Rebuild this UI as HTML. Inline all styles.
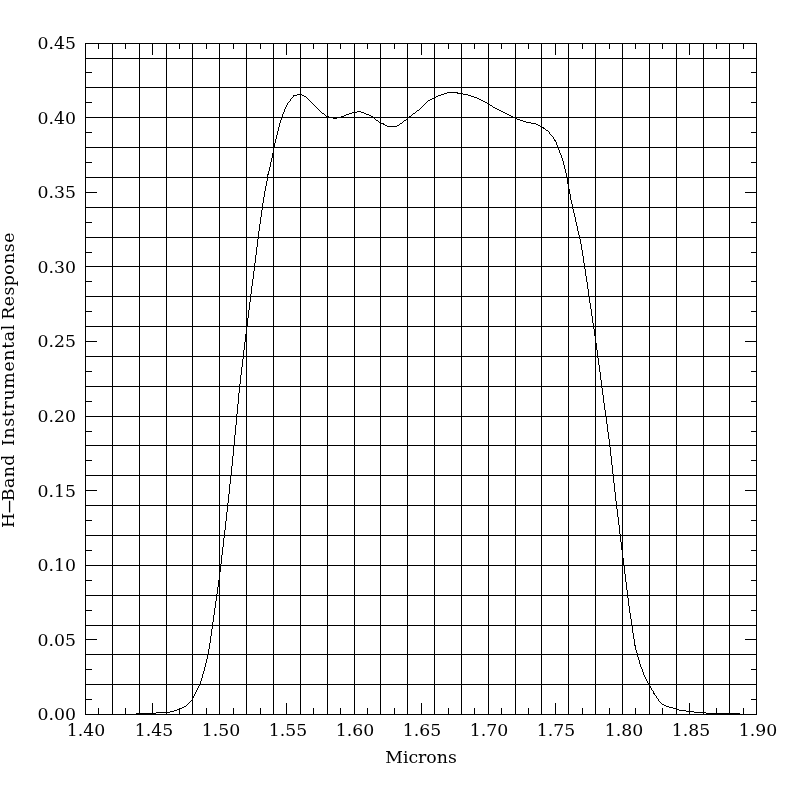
<!DOCTYPE html>
<html lang="en">
<head>
<meta charset="utf-8">
<title>H-Band Instrumental Response</title>
<style>
html,body{margin:0;padding:0;background:#fff;}
body{width:800px;height:800px;overflow:hidden;}
svg{display:block;}
.t{position:absolute;font-family:"DejaVu Serif","Liberation Serif",serif;font-size:16px;line-height:20px;height:20px;color:#000;white-space:nowrap;}
.yl{left:0;width:76px;text-align:right;transform:scaleX(1.08);transform-origin:100% 50%;}
.xl{width:80px;text-align:center;transform:scaleX(1.08);transform-origin:50% 50%;top:721px;}
.xt{left:321px;width:200px;top:748px;text-align:center;transform:scaleX(1.08);transform-origin:50% 50%;}
.yt{left:-191px;top:370px;width:400px;text-align:center;transform:rotate(-90deg) scaleX(1.08);transform-origin:50% 50%;letter-spacing:0.35px;}
.w2{letter-spacing:0.65px;margin-left:2.35px;}
.w3{letter-spacing:0.45px;margin-left:-1.6px;}
.hy{display:inline-block;width:10.5px;text-align:center;transform:scaleX(2.7);margin:0 -0.9px 0 0.9px;}
#plot{position:relative;width:800px;height:800px;overflow:hidden;background:#fff;}
#plot svg{position:absolute;left:0;top:0;}
</style>
</head>
<body>
<div id="plot">
<svg width="800" height="800" viewBox="0 0 800 800">
<rect x="0" y="0" width="800" height="800" fill="#ffffff"/>
<path shape-rendering="crispEdges" fill="#000" d="M85 714h672v1h-672zM85 43h672v1h-672zM85 43h1v672h-1zM756 43h1v672h-1zM98 708h1v7h-1zM98 43h1v6h-1zM112 43h1v672h-1zM112 708h1v7h-1zM112 43h1v6h-1zM125 708h1v7h-1zM125 43h1v6h-1zM139 43h1v672h-1zM139 708h1v7h-1zM139 43h1v6h-1zM152 703h1v12h-1zM152 43h1v12h-1zM166 43h1v672h-1zM166 708h1v7h-1zM166 43h1v6h-1zM179 708h1v7h-1zM179 43h1v6h-1zM192 43h1v672h-1zM192 708h1v7h-1zM192 43h1v6h-1zM206 708h1v7h-1zM206 43h1v6h-1zM219 43h1v672h-1zM219 703h1v12h-1zM219 43h1v12h-1zM233 708h1v7h-1zM233 43h1v6h-1zM246 43h1v672h-1zM246 708h1v7h-1zM246 43h1v6h-1zM260 708h1v7h-1zM260 43h1v6h-1zM273 43h1v672h-1zM273 708h1v7h-1zM273 43h1v6h-1zM286 703h1v12h-1zM286 43h1v12h-1zM300 43h1v672h-1zM300 708h1v7h-1zM300 43h1v6h-1zM313 708h1v7h-1zM313 43h1v6h-1zM327 43h1v672h-1zM327 708h1v7h-1zM327 43h1v6h-1zM340 708h1v7h-1zM340 43h1v6h-1zM354 43h1v672h-1zM354 703h1v12h-1zM354 43h1v12h-1zM367 708h1v7h-1zM367 43h1v6h-1zM380 43h1v672h-1zM380 708h1v7h-1zM380 43h1v6h-1zM394 708h1v7h-1zM394 43h1v6h-1zM407 43h1v672h-1zM407 708h1v7h-1zM407 43h1v6h-1zM421 703h1v12h-1zM421 43h1v12h-1zM434 43h1v672h-1zM434 708h1v7h-1zM434 43h1v6h-1zM448 708h1v7h-1zM448 43h1v6h-1zM461 43h1v672h-1zM461 708h1v7h-1zM461 43h1v6h-1zM474 708h1v7h-1zM474 43h1v6h-1zM488 43h1v672h-1zM488 703h1v12h-1zM488 43h1v12h-1zM501 708h1v7h-1zM501 43h1v6h-1zM515 43h1v672h-1zM515 708h1v7h-1zM515 43h1v6h-1zM528 708h1v7h-1zM528 43h1v6h-1zM541 43h1v672h-1zM541 708h1v7h-1zM541 43h1v6h-1zM555 703h1v12h-1zM555 43h1v12h-1zM568 43h1v672h-1zM568 708h1v7h-1zM568 43h1v6h-1zM582 708h1v7h-1zM582 43h1v6h-1zM595 43h1v672h-1zM595 708h1v7h-1zM595 43h1v6h-1zM609 708h1v7h-1zM609 43h1v6h-1zM622 43h1v672h-1zM622 703h1v12h-1zM622 43h1v12h-1zM635 708h1v7h-1zM635 43h1v6h-1zM649 43h1v672h-1zM649 708h1v7h-1zM649 43h1v6h-1zM662 708h1v7h-1zM662 43h1v6h-1zM676 43h1v672h-1zM676 708h1v7h-1zM676 43h1v6h-1zM689 703h1v12h-1zM689 43h1v12h-1zM703 43h1v672h-1zM703 708h1v7h-1zM703 43h1v6h-1zM716 708h1v7h-1zM716 43h1v6h-1zM729 43h1v672h-1zM729 708h1v7h-1zM729 43h1v6h-1zM743 708h1v7h-1zM743 43h1v6h-1zM85 699h7v1h-7zM751 699h6v1h-6zM85 684h672v1h-672zM85 684h7v1h-7zM751 684h6v1h-6zM85 669h7v1h-7zM751 669h6v1h-6zM85 654h672v1h-672zM85 654h7v1h-7zM751 654h6v1h-6zM85 639h12v1h-12zM745 639h12v1h-12zM85 625h672v1h-672zM85 625h7v1h-7zM751 625h6v1h-6zM85 610h7v1h-7zM751 610h6v1h-6zM85 595h672v1h-672zM85 595h7v1h-7zM751 595h6v1h-6zM85 580h7v1h-7zM751 580h6v1h-6zM85 565h672v1h-672zM85 565h12v1h-12zM745 565h12v1h-12zM85 550h7v1h-7zM751 550h6v1h-6zM85 535h672v1h-672zM85 535h7v1h-7zM751 535h6v1h-6zM85 520h7v1h-7zM751 520h6v1h-6zM85 505h672v1h-672zM85 505h7v1h-7zM751 505h6v1h-6zM85 490h12v1h-12zM745 490h12v1h-12zM85 475h672v1h-672zM85 475h7v1h-7zM751 475h6v1h-6zM85 460h7v1h-7zM751 460h6v1h-6zM85 445h672v1h-672zM85 445h7v1h-7zM751 445h6v1h-6zM85 431h7v1h-7zM751 431h6v1h-6zM85 416h672v1h-672zM85 416h12v1h-12zM745 416h12v1h-12zM85 401h7v1h-7zM751 401h6v1h-6zM85 386h672v1h-672zM85 386h7v1h-7zM751 386h6v1h-6zM85 371h7v1h-7zM751 371h6v1h-6zM85 356h672v1h-672zM85 356h7v1h-7zM751 356h6v1h-6zM85 341h12v1h-12zM745 341h12v1h-12zM85 326h672v1h-672zM85 326h7v1h-7zM751 326h6v1h-6zM85 311h7v1h-7zM751 311h6v1h-6zM85 296h672v1h-672zM85 296h7v1h-7zM751 296h6v1h-6zM85 281h7v1h-7zM751 281h6v1h-6zM85 266h672v1h-672zM85 266h12v1h-12zM745 266h12v1h-12zM85 252h7v1h-7zM751 252h6v1h-6zM85 237h672v1h-672zM85 237h7v1h-7zM751 237h6v1h-6zM85 222h7v1h-7zM751 222h6v1h-6zM85 207h672v1h-672zM85 207h7v1h-7zM751 207h6v1h-6zM85 192h12v1h-12zM745 192h12v1h-12zM85 177h672v1h-672zM85 177h7v1h-7zM751 177h6v1h-6zM85 162h7v1h-7zM751 162h6v1h-6zM85 147h672v1h-672zM85 147h7v1h-7zM751 147h6v1h-6zM85 132h7v1h-7zM751 132h6v1h-6zM85 117h672v1h-672zM85 117h12v1h-12zM745 117h12v1h-12zM85 102h7v1h-7zM751 102h6v1h-6zM85 87h672v1h-672zM85 87h7v1h-7zM751 87h6v1h-6zM85 72h7v1h-7zM751 72h6v1h-6zM85 58h672v1h-672zM85 58h7v1h-7zM751 58h6v1h-6z"/>
<path shape-rendering="crispEdges" fill="#000" d="M136 713h1v1h-1zM137 713h1v1h-1zM138 713h1v1h-1zM139 713h1v1h-1zM140 713h1v1h-1zM141 713h1v1h-1zM142 713h1v1h-1zM143 713h1v1h-1zM144 713h1v1h-1zM145 713h1v1h-1zM146 713h1v1h-1zM147 713h1v1h-1zM148 713h1v1h-1zM149 713h1v1h-1zM150 713h1v1h-1zM151 713h1v1h-1zM152 713h1v1h-1zM153 713h1v1h-1zM154 713h1v1h-1zM155 713h1v1h-1zM156 712h1v1h-1zM157 712h1v1h-1zM158 712h1v1h-1zM159 712h1v1h-1zM160 712h1v1h-1zM161 712h1v1h-1zM162 712h1v1h-1zM163 712h1v1h-1zM164 712h1v1h-1zM165 712h1v1h-1zM166 712h1v1h-1zM167 712h1v1h-1zM168 712h1v1h-1zM169 712h1v1h-1zM170 711h1v1h-1zM171 711h1v1h-1zM172 711h1v1h-1zM173 711h1v1h-1zM174 710h1v1h-1zM175 710h1v1h-1zM176 710h1v1h-1zM177 709h1v1h-1zM178 709h1v1h-1zM179 708h1v1h-1zM180 708h1v1h-1zM181 708h1v1h-1zM182 707h1v1h-1zM183 707h1v1h-1zM184 706h1v1h-1zM185 706h1v1h-1zM186 705h1v1h-1zM187 704h1v1h-1zM188 703h1v1h-1zM189 702h1v1h-1zM190 701h1v1h-1zM191 700h1v1h-1zM192 698h1v2h-1zM193 696h1v2h-1zM194 694h1v2h-1zM195 692h1v2h-1zM196 690h1v2h-1zM197 688h1v2h-1zM198 686h1v2h-1zM199 684h1v2h-1zM200 681h1v3h-1zM201 678h1v3h-1zM202 674h1v4h-1zM203 671h1v3h-1zM204 667h1v4h-1zM205 663h1v4h-1zM206 659h1v4h-1zM207 655h1v4h-1zM208 649h1v6h-1zM209 643h1v6h-1zM210 636h1v7h-1zM211 629h1v7h-1zM212 622h1v7h-1zM213 615h1v7h-1zM214 608h1v7h-1zM215 601h1v7h-1zM216 594h1v7h-1zM217 587h1v7h-1zM218 580h1v7h-1zM219 572h1v8h-1zM220 564h1v8h-1zM221 555h1v9h-1zM222 547h1v8h-1zM223 538h1v9h-1zM224 530h1v8h-1zM225 521h1v9h-1zM226 512h1v9h-1zM227 503h1v9h-1zM228 494h1v9h-1zM229 484h1v10h-1zM230 475h1v9h-1zM231 466h1v9h-1zM232 456h1v10h-1zM233 446h1v10h-1zM234 435h1v11h-1zM235 425h1v10h-1zM236 414h1v11h-1zM237 404h1v10h-1zM238 393h1v11h-1zM239 384h1v9h-1zM240 375h1v9h-1zM241 367h1v8h-1zM242 359h1v8h-1zM243 350h1v9h-1zM244 342h1v8h-1zM245 334h1v8h-1zM246 326h1v8h-1zM247 318h1v8h-1zM248 310h1v8h-1zM249 302h1v8h-1zM250 294h1v8h-1zM251 286h1v8h-1zM252 279h1v7h-1zM253 271h1v8h-1zM254 263h1v8h-1zM255 255h1v8h-1zM256 247h1v8h-1zM257 239h1v8h-1zM258 231h1v8h-1zM259 224h1v7h-1zM260 217h1v7h-1zM261 210h1v7h-1zM262 203h1v7h-1zM263 197h1v6h-1zM264 191h1v6h-1zM265 186h1v5h-1zM266 181h1v5h-1zM267 174h1v7h-1zM268 171h1v4h-1zM269 167h1v4h-1zM270 162h1v5h-1zM271 158h1v4h-1zM272 153h1v5h-1zM273 147h1v6h-1zM274 143h1v4h-1zM275 139h1v4h-1zM276 135h1v4h-1zM277 131h1v4h-1zM278 127h1v4h-1zM279 123h1v4h-1zM280 120h1v3h-1zM281 117h1v3h-1zM282 114h1v3h-1zM283 112h1v2h-1zM284 109h1v3h-1zM285 107h1v2h-1zM286 105h1v2h-1zM287 103h1v2h-1zM288 102h1v1h-1zM289 101h1v1h-1zM290 99h1v2h-1zM291 98h1v1h-1zM292 97h1v1h-1zM293 95h1v2h-1zM294 95h1v1h-1zM295 95h1v1h-1zM296 95h1v1h-1zM297 94h1v1h-1zM298 94h1v1h-1zM299 94h1v1h-1zM300 94h1v1h-1zM301 94h1v1h-1zM302 95h1v1h-1zM303 95h1v1h-1zM304 96h1v1h-1zM305 96h1v1h-1zM306 97h1v1h-1zM307 98h1v1h-1zM308 99h1v1h-1zM309 100h1v1h-1zM310 101h1v1h-1zM311 102h1v1h-1zM312 103h1v1h-1zM313 104h1v1h-1zM314 105h1v1h-1zM315 106h1v1h-1zM316 107h1v1h-1zM317 108h1v1h-1zM318 109h1v1h-1zM319 110h1v1h-1zM320 111h1v1h-1zM321 112h1v1h-1zM322 113h1v1h-1zM323 113h1v1h-1zM324 114h1v1h-1zM325 115h1v1h-1zM326 116h1v1h-1zM327 116h1v1h-1zM328 116h1v1h-1zM329 117h1v1h-1zM330 117h1v1h-1zM331 117h1v1h-1zM332 117h1v1h-1zM333 118h1v1h-1zM334 118h1v1h-1zM335 118h1v1h-1zM336 118h1v1h-1zM337 117h1v1h-1zM338 117h1v1h-1zM339 117h1v1h-1zM340 117h1v1h-1zM341 116h1v1h-1zM342 116h1v1h-1zM343 116h1v1h-1zM344 115h1v1h-1zM345 115h1v1h-1zM346 114h1v1h-1zM347 114h1v1h-1zM348 114h1v1h-1zM349 113h1v1h-1zM350 113h1v1h-1zM351 113h1v1h-1zM352 112h1v1h-1zM353 112h1v1h-1zM354 112h1v1h-1zM355 112h1v1h-1zM356 112h1v1h-1zM357 111h1v1h-1zM358 111h1v1h-1zM359 111h1v1h-1zM360 111h1v1h-1zM361 112h1v1h-1zM362 112h1v1h-1zM363 112h1v1h-1zM364 113h1v1h-1zM365 113h1v1h-1zM366 114h1v1h-1zM367 114h1v1h-1zM368 114h1v1h-1zM369 115h1v1h-1zM370 115h1v1h-1zM371 116h1v1h-1zM372 116h1v1h-1zM373 117h1v1h-1zM374 118h1v1h-1zM375 119h1v1h-1zM376 120h1v1h-1zM377 120h1v1h-1zM378 121h1v1h-1zM379 122h1v1h-1zM380 122h1v1h-1zM381 123h1v1h-1zM382 123h1v1h-1zM383 123h1v2h-1zM384 124h1v1h-1zM385 125h1v1h-1zM386 125h1v1h-1zM387 126h1v1h-1zM388 126h1v1h-1zM389 126h1v1h-1zM390 126h1v1h-1zM391 126h1v1h-1zM392 126h1v1h-1zM393 126h1v1h-1zM394 126h1v1h-1zM395 126h1v1h-1zM396 126h1v1h-1zM397 125h1v1h-1zM398 125h1v1h-1zM399 124h1v1h-1zM400 123h1v1h-1zM401 123h1v1h-1zM402 122h1v1h-1zM403 121h1v1h-1zM404 120h1v1h-1zM405 120h1v1h-1zM406 119h1v1h-1zM407 118h1v1h-1zM408 117h1v1h-1zM409 116h1v1h-1zM410 116h1v1h-1zM411 115h1v1h-1zM412 114h1v1h-1zM413 113h1v1h-1zM414 113h1v1h-1zM415 112h1v1h-1zM416 111h1v1h-1zM417 110h1v1h-1zM418 110h1v1h-1zM419 109h1v1h-1zM420 108h1v1h-1zM421 107h1v1h-1zM422 106h1v1h-1zM423 105h1v1h-1zM424 104h1v1h-1zM425 103h1v1h-1zM426 102h1v1h-1zM427 101h1v1h-1zM428 100h1v1h-1zM429 100h1v1h-1zM430 99h1v1h-1zM431 99h1v1h-1zM432 98h1v1h-1zM433 98h1v1h-1zM434 97h1v1h-1zM435 97h1v1h-1zM436 96h1v1h-1zM437 96h1v1h-1zM438 95h1v1h-1zM439 95h1v1h-1zM440 95h1v1h-1zM441 94h1v1h-1zM442 94h1v1h-1zM443 94h1v1h-1zM444 93h1v1h-1zM445 93h1v1h-1zM446 93h1v1h-1zM447 92h1v1h-1zM448 92h1v1h-1zM449 92h1v1h-1zM450 92h1v1h-1zM451 92h1v1h-1zM452 92h1v1h-1zM453 92h1v1h-1zM454 92h1v1h-1zM455 92h1v1h-1zM456 92h1v1h-1zM457 92h1v2h-1zM458 93h1v1h-1zM459 93h1v1h-1zM460 93h1v1h-1zM461 93h1v1h-1zM462 93h1v1h-1zM463 94h1v1h-1zM464 94h1v1h-1zM465 94h1v1h-1zM466 94h1v1h-1zM467 94h1v1h-1zM468 95h1v1h-1zM469 95h1v1h-1zM470 95h1v1h-1zM471 96h1v1h-1zM472 96h1v1h-1zM473 96h1v1h-1zM474 97h1v1h-1zM475 97h1v1h-1zM476 97h1v1h-1zM477 98h1v1h-1zM478 98h1v1h-1zM479 99h1v1h-1zM480 99h1v1h-1zM481 100h1v1h-1zM482 100h1v1h-1zM483 101h1v1h-1zM484 101h1v1h-1zM485 102h1v1h-1zM486 102h1v1h-1zM487 103h1v1h-1zM488 103h1v1h-1zM489 104h1v1h-1zM490 105h1v1h-1zM491 105h1v1h-1zM492 106h1v1h-1zM493 107h1v1h-1zM494 107h1v1h-1zM495 108h1v1h-1zM496 108h1v1h-1zM497 109h1v1h-1zM498 109h1v1h-1zM499 110h1v1h-1zM500 110h1v1h-1zM501 111h1v1h-1zM502 111h1v1h-1zM503 112h1v1h-1zM504 112h1v1h-1zM505 113h1v1h-1zM506 113h1v1h-1zM507 114h1v1h-1zM508 114h1v1h-1zM509 115h1v1h-1zM510 115h1v1h-1zM511 116h1v1h-1zM512 116h1v1h-1zM513 117h1v1h-1zM514 117h1v1h-1zM515 118h1v1h-1zM516 118h1v1h-1zM517 119h1v1h-1zM518 119h1v1h-1zM519 119h1v1h-1zM520 120h1v1h-1zM521 120h1v1h-1zM522 120h1v1h-1zM523 121h1v1h-1zM524 121h1v1h-1zM525 121h1v1h-1zM526 122h1v1h-1zM527 122h1v1h-1zM528 122h1v1h-1zM529 122h1v1h-1zM530 122h1v1h-1zM531 123h1v1h-1zM532 123h1v1h-1zM533 123h1v1h-1zM534 123h1v1h-1zM535 123h1v1h-1zM536 124h1v1h-1zM537 124h1v1h-1zM538 125h1v1h-1zM539 125h1v1h-1zM540 126h1v1h-1zM541 126h1v1h-1zM542 127h1v1h-1zM543 127h1v2h-1zM544 128h1v1h-1zM545 129h1v1h-1zM546 130h1v1h-1zM547 130h1v1h-1zM548 131h1v1h-1zM549 132h1v2h-1zM550 134h1v1h-1zM551 135h1v1h-1zM552 136h1v1h-1zM553 137h1v2h-1zM554 139h1v2h-1zM555 140h1v2h-1zM556 142h1v3h-1zM557 145h1v2h-1zM558 147h1v3h-1zM559 150h1v3h-1zM560 153h1v2h-1zM561 155h1v3h-1zM562 158h1v3h-1zM563 161h1v4h-1zM564 165h1v4h-1zM565 169h1v4h-1zM566 173h1v5h-1zM567 178h1v6h-1zM568 184h1v5h-1zM569 189h1v5h-1zM570 194h1v6h-1zM571 200h1v4h-1zM572 204h1v5h-1zM573 209h1v4h-1zM574 213h1v4h-1zM575 217h1v5h-1zM576 222h1v4h-1zM577 226h1v5h-1zM578 231h1v4h-1zM579 235h1v4h-1zM580 239h1v5h-1zM581 244h1v6h-1zM582 250h1v6h-1zM583 256h1v7h-1zM584 263h1v6h-1zM585 269h1v7h-1zM586 276h1v6h-1zM587 282h1v7h-1zM588 289h1v7h-1zM589 296h1v7h-1zM590 303h1v6h-1zM591 309h1v7h-1zM592 316h1v7h-1zM593 323h1v6h-1zM594 329h1v7h-1zM595 336h1v7h-1zM596 343h1v7h-1zM597 350h1v8h-1zM598 358h1v7h-1zM599 365h1v7h-1zM600 372h1v8h-1zM601 380h1v8h-1zM602 388h1v7h-1zM603 395h1v8h-1zM604 403h1v7h-1zM605 410h1v7h-1zM606 417h1v7h-1zM607 424h1v8h-1zM608 432h1v7h-1zM609 439h1v8h-1zM610 447h1v9h-1zM611 456h1v9h-1zM612 465h1v9h-1zM613 474h1v9h-1zM614 483h1v9h-1zM615 492h1v9h-1zM616 501h1v8h-1zM617 509h1v8h-1zM618 517h1v8h-1zM619 525h1v9h-1zM620 534h1v8h-1zM621 542h1v8h-1zM622 550h1v8h-1zM623 558h1v8h-1zM624 566h1v8h-1zM625 574h1v8h-1zM626 582h1v8h-1zM627 590h1v8h-1zM628 598h1v8h-1zM629 606h1v7h-1zM630 613h1v6h-1zM631 619h1v7h-1zM632 626h1v7h-1zM633 633h1v6h-1zM634 639h1v7h-1zM635 645h1v5h-1zM636 650h1v3h-1zM637 653h1v4h-1zM638 657h1v3h-1zM639 660h1v4h-1zM640 664h1v3h-1zM641 667h1v2h-1zM642 669h1v3h-1zM643 672h1v3h-1zM644 675h1v2h-1zM645 677h1v2h-1zM646 679h1v2h-1zM647 681h1v2h-1zM648 683h1v2h-1zM649 685h1v1h-1zM650 686h1v2h-1zM651 688h1v2h-1zM652 690h1v1h-1zM653 691h1v3h-1zM654 693h1v2h-1zM655 695h1v1h-1zM656 696h1v2h-1zM657 698h1v1h-1zM658 699h1v2h-1zM659 701h1v1h-1zM660 702h1v1h-1zM661 703h1v1h-1zM662 704h1v1h-1zM663 704h1v1h-1zM664 705h1v1h-1zM665 705h1v1h-1zM666 706h1v1h-1zM667 706h1v1h-1zM668 706h1v1h-1zM669 707h1v1h-1zM670 707h1v1h-1zM671 707h1v1h-1zM672 707h1v1h-1zM673 708h1v1h-1zM674 708h1v1h-1zM675 708h1v1h-1zM676 709h1v1h-1zM677 709h1v1h-1zM678 709h1v1h-1zM679 710h1v1h-1zM680 710h1v1h-1zM681 710h1v1h-1zM682 710h1v1h-1zM683 710h1v1h-1zM684 710h1v1h-1zM685 710h1v1h-1zM686 711h1v1h-1zM687 711h1v1h-1zM688 711h1v1h-1zM689 711h1v1h-1zM690 711h1v1h-1zM691 711h1v1h-1zM692 711h1v1h-1zM693 711h1v1h-1zM694 712h1v1h-1zM695 712h1v1h-1zM696 712h1v1h-1zM697 712h1v1h-1zM698 712h1v1h-1zM699 712h1v1h-1zM700 712h1v1h-1zM701 712h1v1h-1zM702 712h1v1h-1zM703 712h1v1h-1zM704 712h1v1h-1zM705 712h1v1h-1zM706 713h1v1h-1zM707 713h1v1h-1zM708 713h1v1h-1zM709 713h1v1h-1zM710 713h1v1h-1zM711 713h1v1h-1zM712 713h1v1h-1zM713 713h1v1h-1zM714 713h1v1h-1zM715 713h1v1h-1zM716 713h1v1h-1zM717 713h1v1h-1zM718 713h1v1h-1zM719 713h1v1h-1zM720 713h1v1h-1zM721 713h1v1h-1zM722 713h1v1h-1zM723 713h1v1h-1zM724 713h1v1h-1zM725 713h1v1h-1zM726 713h1v1h-1zM727 713h1v1h-1zM728 713h1v1h-1zM729 713h1v1h-1zM730 713h1v1h-1zM731 713h1v1h-1zM732 713h1v1h-1zM733 713h1v1h-1zM734 713h1v1h-1zM735 713h1v1h-1zM736 713h1v1h-1zM737 713h1v1h-1zM738 713h1v1h-1zM739 713h1v1h-1z"/>
</svg>
<div class="t yl" style="top:34px">0.45</div>
<div class="t yl" style="top:109px">0.40</div>
<div class="t yl" style="top:183px">0.35</div>
<div class="t yl" style="top:258px">0.30</div>
<div class="t yl" style="top:332px">0.25</div>
<div class="t yl" style="top:407px">0.20</div>
<div class="t yl" style="top:482px">0.15</div>
<div class="t yl" style="top:556px">0.10</div>
<div class="t yl" style="top:631px">0.05</div>
<div class="t yl" style="top:705px">0.00</div>
<div class="t xl" style="left:46px">1.40</div>
<div class="t xl" style="left:114px">1.45</div>
<div class="t xl" style="left:181px">1.50</div>
<div class="t xl" style="left:248px">1.55</div>
<div class="t xl" style="left:315px">1.60</div>
<div class="t xl" style="left:382px">1.65</div>
<div class="t xl" style="left:449px">1.70</div>
<div class="t xl" style="left:516px">1.75</div>
<div class="t xl" style="left:584px">1.80</div>
<div class="t xl" style="left:651px">1.85</div>
<div class="t xl" style="left:718px">1.90</div>
<div class="t xt">Microns</div>
<div class="t yt"><span class="w1">H<span class="hy">-</span>Band</span> <span class="w2">Instrumental</span> <span class="w3">Response</span></div>
</div>
</body>
</html>
